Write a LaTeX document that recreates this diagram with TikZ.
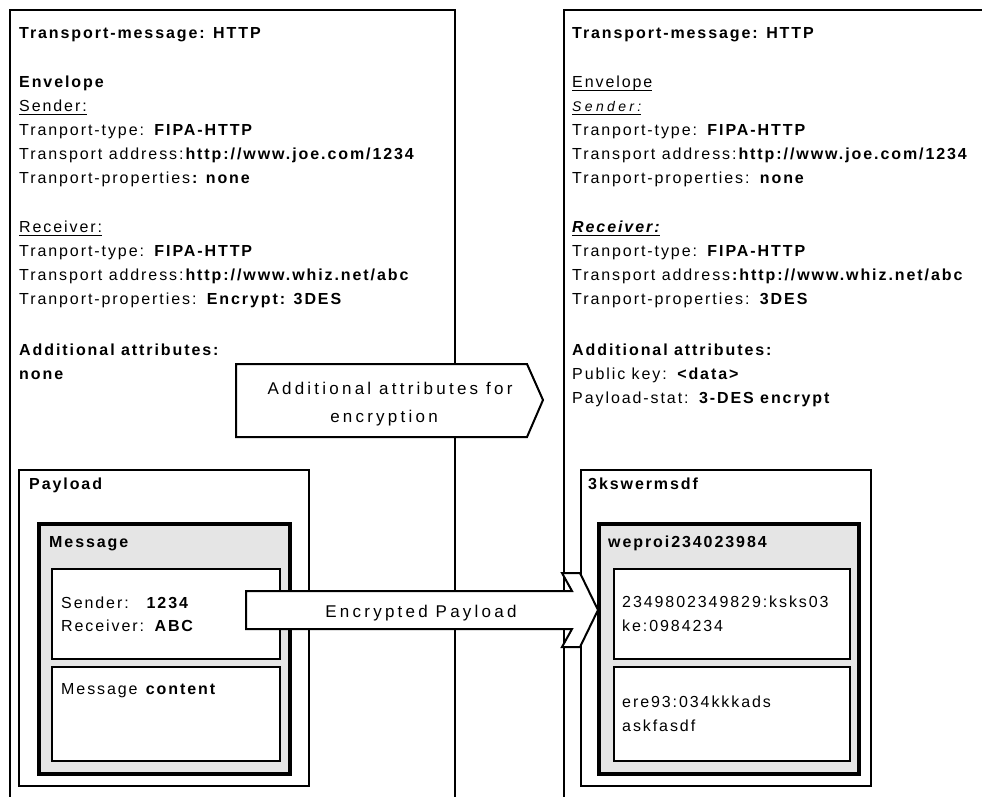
\documentclass[tikz,border=0pt]{standalone}
\usepackage{fontspec}
\setmainfont{Liberation Sans}[LetterSpace=12]
\newfontfamily\arrowfont{Liberation Sans}[LetterSpace=19]
\newfontfamily\widefont{Liberation Sans}[LetterSpace=24]
\definecolor{msggray}{RGB}{229,229,229}
\newcommand\myul[1]{\setbox0\hbox{#1}\dp0=0pt\vtop{\box0\kern2.5pt\hrule height1.6pt}}
\begin{document}
\begin{tikzpicture}[x=1pt,y=-1pt,
  txt/.style={anchor=base west, inner sep=0pt, font=\fontsize{16}{19}\selectfont},
  ctxt/.style={anchor=base, inner sep=0pt, font=\fontsize{17}{20}\arrowfont},
  outline/.style={draw, line width=2pt},
  msgbox/.style={draw, line width=3.5pt, fill=msggray},
  inbox/.style={draw, line width=2pt, fill=white},
  arrowshape/.style={draw, line width=2pt, fill=white, line join=miter}]
\useasboundingbox (0,0) rectangle (982,796);
\begin{scope}
\clip (0,0) rectangle (982,796);
% big envelopes
\draw[outline] (10,800) -- (10,10) -- (455,10) -- (455,800);
\draw[outline] (564,800) -- (564,10) -- (990,10);
\end{scope}
% left payload
\draw[outline] (19,470) rectangle (309,786);
\draw[msgbox] (39,524) rectangle (290,774);
\draw[inbox] (52,569) rectangle (280,659);
\draw[inbox] (52,667) rectangle (280,761);
% right payload
\draw[outline] (581,470) rectangle (871,786);
\draw[msgbox] (599,524) rectangle (859,774);
\draw[inbox] (614,569) rectangle (850,659);
\draw[inbox] (614,667) rectangle (850,761);

% left texts
\node[txt] (l1) at (19,38) {\textbf{Transport-message: HTTP}};
\node[txt] (l2) at (19,87) {\textbf{Envelope}};
\node[txt] (l3) at (19,111) {\myul{Sender:}};
\node[txt] (l4) at (19,135) {Tranport-type: \textbf{FIPA-HTTP}};
\node[txt] (l5) at (19,159) {Transport address:\textbf{http://www.joe.com/1234}};
\node[txt] (l6) at (19,183) {Tranport-properties\textbf{: none}};
\node[txt] (l7) at (19,232) {\myul{Receiver:}};
\node[txt] (l8) at (19,256) {Tranport-type: \textbf{FIPA-HTTP}};
\node[txt] (l9) at (19,280) {Transport address:\textbf{http://www.whiz.net/abc}};
\node[txt] (l10) at (19,304) {Tranport-properties: \textbf{Encrypt: 3DES}};
\node[txt] (l11) at (19,355) {\textbf{Additional attributes:}};
\node[txt] (l12) at (19,379) {\textbf{none}};

% right texts
\node[txt] (r1) at (572,38) {\textbf{Transport-message: HTTP}};
\node[txt] (r2) at (572,87) {\myul{Envelope}};
\node[txt] (r3) at (572,111) {\myul{\fontsize{14}{16}\widefont\itshape Sender:}};
\node[txt] (r4) at (572,135) {Tranport-type: \textbf{FIPA-HTTP}};
\node[txt] (r5) at (572,159) {Transport address:\textbf{http://www.joe.com/1234}};
\node[txt] (r6) at (572,183) {Tranport-properties: \textbf{none}};
\node[txt] (r7) at (572,232) {\myul{\bfseries\itshape Receiver:}};
\node[txt] (r8) at (572,256) {Tranport-type: \textbf{FIPA-HTTP}};
\node[txt] (r9) at (572,280) {Transport address\textbf{:http://www.whiz.net/abc}};
\node[txt] (r10) at (572,304) {Tranport-properties: \textbf{3DES}};
\node[txt] (r11) at (572,355) {\textbf{Additional attributes:}};
\node[txt] (r12) at (572,379) {Public key: \textbf{<data>}};
\node[txt] (r13) at (572,403) {Payload-stat: \textbf{3-DES encrypt}};

% payload texts
\node[txt] (pl) at (29,489) {\textbf{Payload}};
\node[txt] (ms) at (49,547) {\textbf{Message}};
\node[txt] (s1) at (61,608) {Sender:\hspace{16pt}\textbf{1234}};
\node[txt] (s2) at (61,631) {Receiver: \textbf{ABC}};
\node[txt] (mc) at (61,694) {Message \textbf{content}};
\node[txt] (pr) at (588,489) {\textbf{3kswermsdf}};
\node[txt] (wr) at (608,547) {\textbf{weproi234023984}};
\node[txt] (e1) at (622,607) {2349802349829:ksks03};
\node[txt] (e2) at (622,631) {ke:0984234};
\node[txt] (e3) at (622,707) {ere93:034kkkads};
\node[txt] (e4) at (622,731) {askfasdf};

% arrows
\draw[arrowshape] (236,364) -- (527,364) -- (543,400) -- (527,437) -- (236,437) -- cycle;
\node[ctxt] (a1) at (390,394) {Additional attributes for};
\node[ctxt] (a2) at (384,422) {encryption};
\draw[arrowshape] (246,591) -- (572,591) -- (562,573) -- (580,573) -- (598,610) -- (580,647) -- (562,647) -- (572,629) -- (246,629) -- cycle;
\node[ctxt] (a3) at (421,617) {Encrypted Payload};
\end{tikzpicture}
\end{document}
